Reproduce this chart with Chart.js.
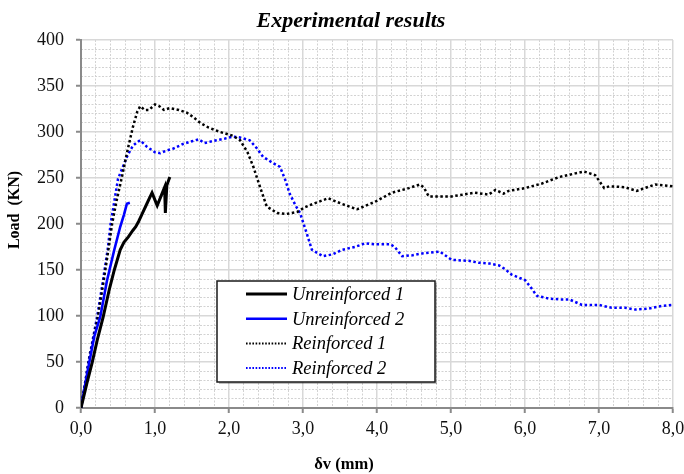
<!DOCTYPE html>
<html>
<head>
<meta charset="utf-8">
<script src="https://cdn.jsdelivr.net/npm/chart.js@4.4.1/dist/chart.umd.min.js"></script>
<style>
  html, body { margin: 0; padding: 0; background: #fff; }
  #wrap { width: 684px; height: 474px; }
</style>
</head>
<body>
<div id="wrap"><canvas id="chart" width="684" height="474"></canvas></div>
<script>
// Load-deflection curves, deflection in mm, load in kN
const seriesNames = ['Unreinforced 1', 'Unreinforced 2', 'Reinforced 1', 'Reinforced 2'];

const unreinf1Defl = [0, 0.08, 0.15, 0.22, 0.30, 0.38, 0.45, 0.53, 0.58, 0.64, 0.70, 0.74, 0.78, 0.82, 0.89, 0.96, 1.00, 1.03, 1.08, 1.13, 1.14, 1.16, 1.20];
const unreinf1Load = [0, 27, 49, 74, 99, 128, 150, 172, 180, 186, 193, 197, 203, 210, 222, 234, 226, 220, 230, 240, 212, 242, 251];

const unreinf2Defl = [0, 0.06, 0.11, 0.18, 0.26, 0.35, 0.45, 0.53, 0.58, 0.62, 0.66];
const unreinf2Load = [0, 27, 49, 78, 99, 138, 172, 197, 210, 222, 223];

const reinf1Defl = [0, 0.10, 0.23, 0.30, 0.37, 0.42, 0.48, 0.55, 0.62, 0.70, 0.76, 0.80, 0.86, 0.92, 1.00, 1.06, 1.12, 1.20, 1.32, 1.43, 1.52, 1.61, 1.72, 1.88, 2.05, 2.15, 2.25, 2.33, 2.42, 2.51, 2.65, 2.78, 2.92, 3.02, 3.14, 3.34, 3.52, 3.73, 3.97, 4.20, 4.43, 4.58, 4.63, 4.70, 5.01, 5.32, 5.51, 5.60, 5.71, 5.78, 6.00, 6.23, 6.46, 6.68, 6.80, 6.95, 7.01, 7.07, 7.14, 7.35, 7.51, 7.76, 8.00];
const reinf1Load = [0, 48, 100, 135, 172, 200, 225, 250, 277, 305, 322, 328, 324, 324, 330, 328, 324, 326, 324, 321, 316, 310, 305, 300, 296, 291, 278, 262, 240, 219, 212, 211, 213, 218, 222, 228, 222, 216, 224, 234, 239, 243, 240, 230, 230, 234, 232, 237, 233, 236, 239, 244, 251, 255, 257, 253, 246, 239, 241, 240, 236, 243, 241];

const reinf2Defl = [0, 0.10, 0.22, 0.29, 0.36, 0.40, 0.50, 0.62, 0.70, 0.76, 0.80, 0.89, 1.00, 1.07, 1.16, 1.25, 1.38, 1.50, 1.59, 1.67, 1.83, 1.95, 2.05, 2.15, 2.28, 2.38, 2.46, 2.58, 2.69, 2.76, 2.82, 2.90, 2.96, 3.05, 3.12, 3.27, 3.40, 3.53, 3.70, 3.84, 3.97, 4.18, 4.24, 4.34, 4.48, 4.61, 4.85, 4.92, 5.01, 5.24, 5.37, 5.52, 5.65, 5.73, 5.82, 6.00, 6.07, 6.16, 6.32, 6.47, 6.60, 6.77, 7.00, 7.17, 7.35, 7.49, 7.67, 7.85, 8.00];
const reinf2Load = [0, 50, 100, 135, 172, 200, 249, 273, 285, 289, 291, 284, 278, 277, 280, 282, 287, 290, 292, 288, 291, 293, 295, 294, 291, 282, 273, 267, 262, 248, 233, 220, 212, 190, 172, 165, 167, 172, 175, 179, 178, 178, 175, 165, 166, 168, 170, 166, 161, 160, 158, 157, 155, 151, 145, 139, 132, 122, 119, 118, 118, 112, 112, 109, 109, 107, 108, 111, 112];

const xTicksMajor = [0, 1, 2, 3, 4, 5, 6, 7, 8];
const yTicksMajor = [0, 50, 100, 150, 200, 250, 300, 350, 400];

function toPoints(xs, ys) {
    return xs.map((x, i) => ({ x: x, y: ys[i] }));
}

const SERIF = "'Liberation Serif', 'Times New Roman', serif";
const AXIS_GREY = '#8a8a8a';

// the chart title, axis titles and the boxed legend
const decorPlugin = {
    id: 'decor',
    afterDraw(chart) {
        const ctx = chart.ctx;
        ctx.save();
        ctx.fillStyle = '#000';
        ctx.textAlign = 'center';
        ctx.textBaseline = 'middle';

        ctx.font = 'italic bold 22px ' + SERIF;
        ctx.fillText('Experimental results', 351, 21);

        ctx.font = 'bold 16.5px ' + SERIF;
        ctx.fillText('\u03b4v (mm)', 344, 465);

        ctx.save();
        ctx.translate(15, 210);
        ctx.rotate(-Math.PI / 2);
        ctx.font = 'bold 16px ' + SERIF;
        ctx.fillText('Load  (KN)', 0, 0);
        ctx.restore();

        // legend box
        const bx = 217, by = 281, bw = 218, bh = 101;
        ctx.fillStyle = 'rgba(0,0,0,0.25)';
        ctx.fillRect(bx + 2, by + 2, bw, bh);
        ctx.fillStyle = '#fff';
        ctx.fillRect(bx, by, bw, bh);
        ctx.strokeStyle = '#1a1a1a';
        ctx.lineWidth = 1.5;
        ctx.strokeRect(bx, by, bw, bh);

        ctx.font = 'italic 18.5px ' + SERIF;
        ctx.textAlign = 'left';
        chart.data.datasets.forEach((ds, i) => {
            const y = by + 13 + i * 24.7;
            ctx.save();
            ctx.strokeStyle = ds.borderColor;
            ctx.lineWidth = ds.borderDash ? 2 : ds.borderWidth;
            ctx.setLineDash(ds.borderDash ? [1.6, 1.6] : []);
            ctx.beginPath();
            ctx.moveTo(246, y);
            ctx.lineTo(287, y);
            ctx.stroke();
            ctx.restore();
            ctx.fillStyle = '#000';
            ctx.fillText(ds.label, 292, y + 1);
        });
        ctx.restore();
    }
};

function isMajor(v, step) {
    return Math.abs(v / step - Math.round(v / step)) < 1e-6;
}

new Chart(document.getElementById('chart'), {
    type: 'scatter',
    data: {
        datasets: [
            {
                label: seriesNames[0],
                data: toPoints(unreinf1Defl, unreinf1Load),
                borderColor: '#000000',
                borderWidth: 3
            },
            {
                label: seriesNames[1],
                data: toPoints(unreinf2Defl, unreinf2Load),
                borderColor: '#0000ff',
                borderWidth: 2.6
            },
            {
                label: seriesNames[2],
                data: toPoints(reinf1Defl, reinf1Load),
                borderColor: '#000000',
                borderWidth: 2.5,
                borderDash: [2.5, 2.5]
            },
            {
                label: seriesNames[3],
                data: toPoints(reinf2Defl, reinf2Load),
                borderColor: '#0000ff',
                borderWidth: 2.5,
                borderDash: [2.5, 2.5]
            }
        ].map(ds => Object.assign(ds, { showLine: true, pointRadius: 0, tension: 0, fill: false }))
    },
    options: {
        responsive: false,
        animation: false,
        layout: { padding: { top: 40, right: 11, left: 0, bottom: 0 } },
        plugins: {
            legend: { display: false },
            tooltip: { enabled: false }
        },
        scales: {
            xMinor: {
                type: 'linear', position: 'bottom', min: 0, max: 8,
                ticks: { display: false, stepSize: 0.2 },
                grid: {
                    drawTicks: false, lineWidth: 1,
                    color: c => isMajor(c.tick.value, 1) ? 'rgba(0,0,0,0)' : '#d2d2d2'
                },
                border: { display: false, dash: [2, 1.5] }
            },
            yMinor: {
                type: 'linear', position: 'left', min: 0, max: 400,
                ticks: { display: false, stepSize: 10 },
                grid: {
                    drawTicks: false, lineWidth: 1,
                    color: c => isMajor(c.tick.value, 50) ? 'rgba(0,0,0,0)' : '#d2d2d2'
                },
                border: { display: false, dash: [2, 1.5] }
            },
            x: {
                type: 'linear', position: 'bottom', min: 0, max: 8,
                afterBuildTicks: s => { s.ticks = xTicksMajor.map(v => ({ value: v })); },
                ticks: {
                    padding: 5, color: '#111', maxRotation: 0,
                    font: { family: SERIF, size: 18 },
                    callback: v => v.toFixed(1).replace('.', ',')
                },
                grid: { color: '#d8d8d8', lineWidth: 1.5, tickColor: AXIS_GREY, tickWidth: 2, tickLength: 5 },
                border: { color: AXIS_GREY, width: 2 },
                // keep the end labels from pulling the plot edges inwards
                afterFit: s => { s.height = 66; s.paddingLeft = 0; s.paddingRight = 0; }
            },
            y: {
                type: 'linear', position: 'left', min: 0, max: 400,
                afterBuildTicks: s => { s.ticks = yTicksMajor.map(v => ({ value: v })); },
                ticks: {
                    padding: 12, color: '#111',
                    font: { family: SERIF, size: 18 }
                },
                grid: { color: '#d8d8d8', lineWidth: 1.5, tickColor: AXIS_GREY, tickWidth: 2, tickLength: 5 },
                border: { color: AXIS_GREY, width: 2 },
                afterFit: s => { s.width = 81; s.paddingTop = 0; s.paddingBottom = 0; }
            }
        }
    },
    plugins: [decorPlugin]
});
</script>
</body>
</html>
